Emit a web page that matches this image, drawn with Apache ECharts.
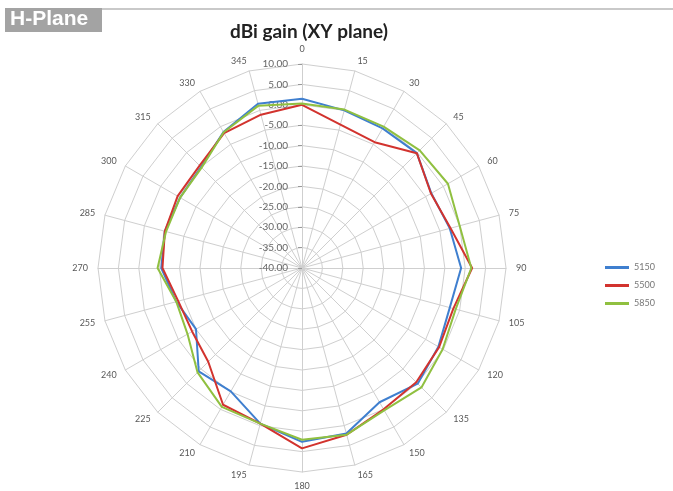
<!DOCTYPE html>
<html><head><meta charset="utf-8">
<script src="https://cdn.jsdelivr.net/npm/echarts@6/dist/echarts.min.js"></script>
<style>html,body{margin:0;padding:0;background:#fff}#c{width:673px;height:491px}</style>
</head><body><div id="c"></div>
<script>
const angles = ['0','15','30','45','60','75','90','105','120','135','150','165','180','195','210','225','240','255','270','285','300','315','330','345'];
const gain5150 = [1.5, 0.0, -0.5, -0.2, -3.4, -2.5, -1.0, -2.5, -1.4, 0.1, -2.0, 2.0, 2.6, -0.5, -5.1, -4.2, -10.0, -8.1, -5.5, -5.2, -5.5, -5.0, -1.5, 1.7];
const gain5500 = [0.0, -3.6, -4.4, -0.2, -3.5, -2.3, 1.7, -1.6, -1.2, -0.4, 0.0, 2.3, 4.2, -0.5, -1.3, -7.5, -8.9, -8.6, -5.8, -5.2, -4.8, -4.5, -1.8, -1.1];
const gain5850 = [0.3, 0.2, 0.0, 0.8, 1.3, 0.0, 1.5, -1.0, -0.2, 1.4, 0.3, 2.3, 2.1, -0.5, -0.7, -3.8, -7.6, -8.1, -4.6, -5.5, -5.5, -5.2, -1.6, 1.2];
const seriesNames = ['5150', '5500', '5850'];
const seriesColors = ['#3f7fcf', '#d2332e', '#90c040'];
const radialMin = -40, radialMax = 10, radialSplits = 10;

// ECharts radar places indicators counter-clockwise; reorder so angles run clockwise
const order = angles.map((_, i) => (angles.length - i) % angles.length);
const reorder = arr => order.map(k => arr[k]);
const indicator = order.map((k, j) => {
  const ind = { name: angles[k], min: radialMin, max: radialMax };
  if (j === 0) {
    ind.axisLabel = { show: true };
    ind.axisTick = { show: true };
  }
  return ind;
});

const chart = echarts.init(document.getElementById('c'), null, { renderer: 'canvas' });
chart.setOption({
  backgroundColor: '#fff',
  animation: false,
  title: {
    text: 'dBi gain (XY plane)', left: 225, top: 17,
    textStyle: { fontFamily: 'Lato', fontWeight: 'bold', fontSize: 19, color: '#222' }
  },
  legend: {
    orient: 'vertical', left: 600, top: 258, itemGap: 9,
    itemWidth: 24, itemHeight: 3, icon: 'rect',
    textStyle: { fontSize: 9, color: '#777', fontFamily: 'Lato' },
    data: seriesNames
  },
  radar: {
    center: [302, 268], radius: 204, startAngle: 90,
    splitNumber: radialSplits, shape: 'polygon',
    nameGap: 10,
    axisName: { color: '#595959', fontSize: 9, fontFamily: 'Lato' },
    axisLine: { lineStyle: { color: '#cfcfcf', width: 1 } },
    splitLine: { lineStyle: { color: '#cfcfcf', width: 1 } },
    splitArea: { show: false },
    axisTick: { show: false, length: 4, lineStyle: { color: '#999' } },
    axisLabel: {
      show: false, fontSize: 10, color: '#666', fontFamily: 'Lato', margin: 14,
      formatter: v => Number(v).toFixed(2)
    },
    indicator: indicator
  },
  series: [
    { type: 'radar', name: seriesNames[0], symbol: 'none', color: seriesColors[0],
      lineStyle: { width: 2, color: seriesColors[0] },
      data: [{ name: seriesNames[0], value: reorder(gain5150) }] },
    { type: 'radar', name: seriesNames[1], symbol: 'none', color: seriesColors[1],
      lineStyle: { width: 2, color: seriesColors[1] },
      data: [{ name: seriesNames[1], value: reorder(gain5500) }] },
    { type: 'radar', name: seriesNames[2], symbol: 'none', color: seriesColors[2],
      lineStyle: { width: 2, color: seriesColors[2] },
      data: [{ name: seriesNames[2], value: reorder(gain5850) }] }
  ],
  graphic: [
    { type: 'line', shape: { x1: 102, y1: 9, x2: 673, y2: 9 }, style: { stroke: '#c9c9c9', lineWidth: 2 } },
    { type: 'rect', shape: { x: 5, y: 8, width: 97, height: 24 }, style: { fill: '#a3a3a3' } },
    { type: 'text', x: 10, y: 9, style: { text: 'H-Plane', fill: '#fff', font: 'bold 21px "Liberation Sans"' } }
  ]
});
</script></body></html>
